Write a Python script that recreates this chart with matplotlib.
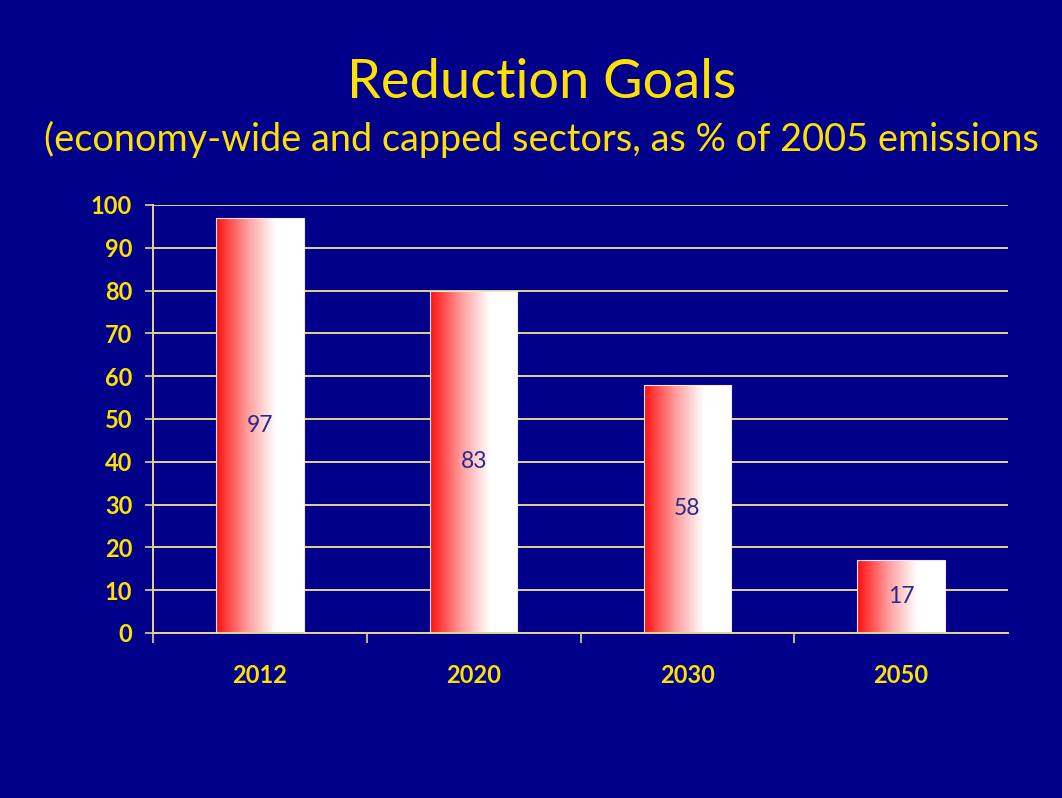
import matplotlib
matplotlib.use('Agg')
import matplotlib.pyplot as plt
import numpy as np
from matplotlib.colors import LinearSegmentedColormap

# data
years = ['2012', '2020', '2030', '2050']
bar_heights = [97, 80, 58, 17]
bar_labels = ['97', '83', '58', '17']
y_ticks = list(range(0, 101, 10))

bg = '#00008B'
yellow = '#FFE100'
grid_col = '#E6D38C'

plt.rcParams['font.family'] = ['Lato', 'DejaVu Sans']

fig = plt.figure(figsize=(10.62, 7.98), dpi=100, facecolor=bg)
ax = fig.add_axes([153 / 1062, 1 - 633 / 798, (1008 - 153) / 1062, (633 - 205) / 798])
ax.set_facecolor(bg)

fig.text(542 / 1062, 1 - 82 / 798, 'Reduction Goals', color=yellow, fontsize=39,
         ha='center', va='center')
fig.text(0.51, 1 - 139 / 798, '(economy-wide and capped sectors, as % of 2005 emissions',
         color=yellow, fontsize=27.3, ha='center', va='center')

x = np.arange(len(years))
bars = ax.bar(x, bar_heights, width=0.41, color='none', edgecolor='#F4E6E6',
              linewidth=0.8, zorder=3)

cmap = LinearSegmentedColormap.from_list('rw', [(0, '#FF1010'), (0.35, '#FF9A9A'),
                                               (0.68, '#FFFFFF'), (1, '#FFFFFF')])
grad = np.linspace(0, 1, 256).reshape(1, -1)
for b in bars:
    x0, w, h = b.get_x(), b.get_width(), b.get_height()
    im = ax.imshow(grad, cmap=cmap, extent=[x0, x0 + w, 0, h], aspect='auto',
                   zorder=2, interpolation='bilinear')
    im.set_clip_path(b)

for xi, h, lab in zip(x, bar_heights, bar_labels):
    ax.text(xi, h / 2, lab, color='#2A2A8C', fontsize=16.5, ha='center',
            va='center', zorder=4)

ax.set_xlim(-0.5, len(years) - 0.5)
ax.set_ylim(0, 100)
ax.set_yticks(y_ticks)
ax.set_yticklabels([str(t) for t in y_ticks], color=yellow, fontsize=17,
                   fontweight='bold')
ax.set_xticks(x)
ax.set_xticklabels(years, color=yellow, fontsize=17, fontweight='bold')
ax.tick_params(axis='x', length=0, pad=22)
ax.set_xticks(np.arange(-0.5, len(years) - 1), minor=True)
ax.tick_params(axis='x', which='minor', length=7, color=grid_col, width=1.2)
ax.tick_params(axis='y', length=6, color=grid_col, width=1.2, pad=9)

ax.grid(axis='y', color=grid_col, linewidth=1.4, zorder=1)
ax.set_axisbelow(True)
for s in ['top', 'right']:
    ax.spines[s].set_visible(False)
for s in ['left', 'bottom']:
    ax.spines[s].set_color(grid_col)
    ax.spines[s].set_linewidth(1.4)

fig.savefig('out.png', dpi=100, facecolor=bg)
